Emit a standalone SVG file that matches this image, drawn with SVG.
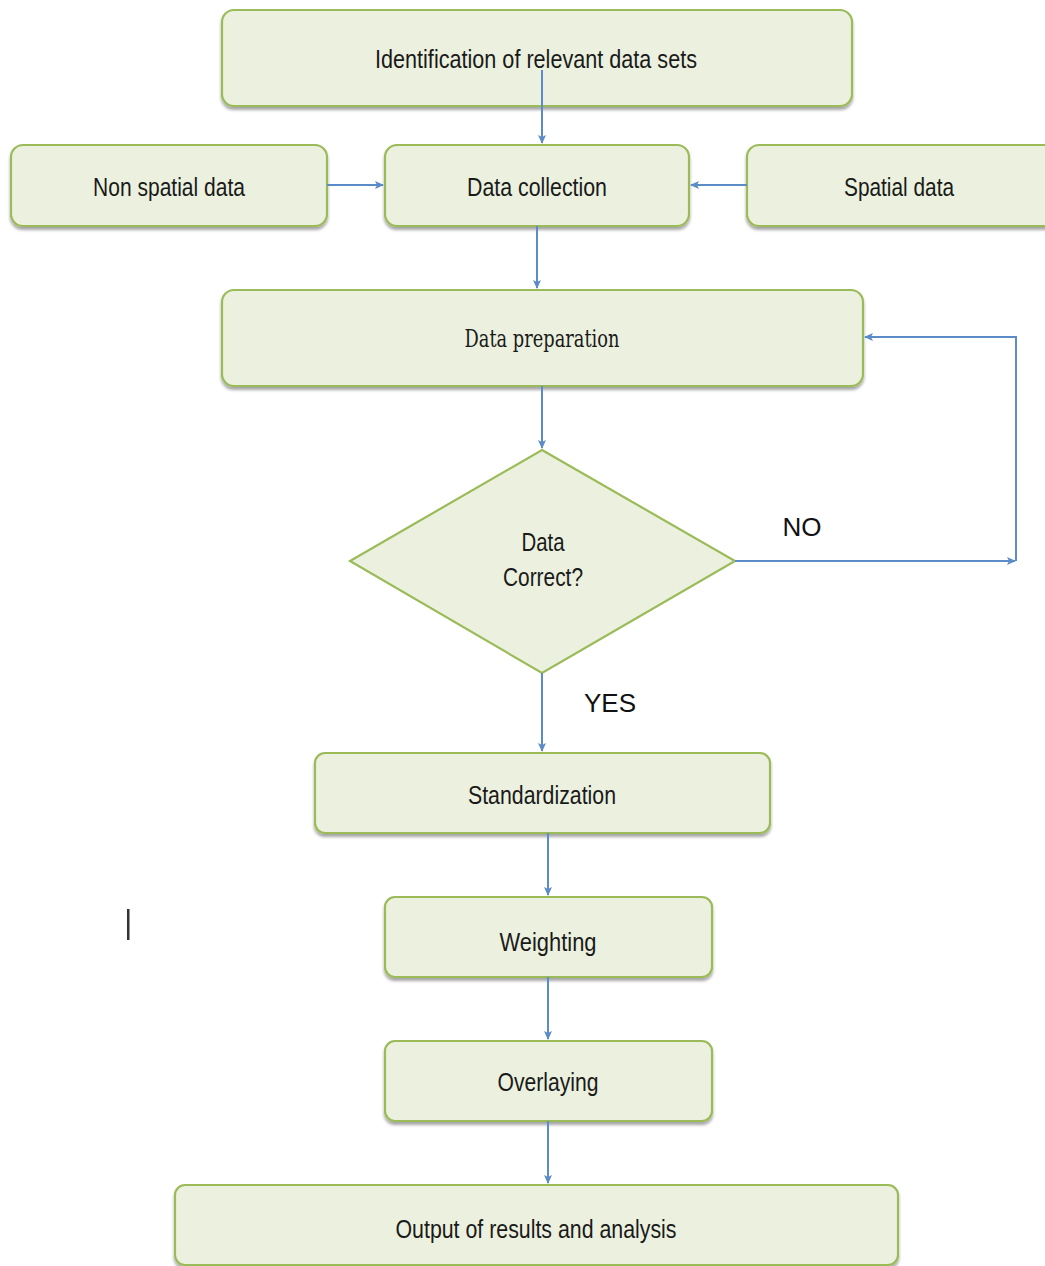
<svg xmlns="http://www.w3.org/2000/svg" width="1045" height="1266" viewBox="0 0 1045 1266">
<style>
.box{fill:#EBF1DE;stroke:#9BBB59;stroke-width:2.2;filter:url(#sh)}
.t{font-family:"Liberation Sans",Arial,sans-serif;font-size:25px;fill:#1a1a1a;text-anchor:middle}
.ts{font-family:"DejaVu Serif","Liberation Serif",serif;font-size:24px;fill:#1a1a1a;text-anchor:middle}
.lbl{font-family:"Liberation Sans",Arial,sans-serif;font-size:26px;fill:#111;text-anchor:middle}
.c{fill:none;stroke:#5B8CC8;stroke-width:2}
</style>
<defs>
<filter id="sh" x="-5%" y="-10%" width="110%" height="130%">
<feDropShadow dx="0" dy="3" stdDeviation="1.5" flood-color="#000" flood-opacity="0.35"/>
</filter>
<marker id="ah" markerWidth="10" markerHeight="10" refX="8" refY="5" orient="auto" markerUnits="userSpaceOnUse">
<path d="M0,1 L9,5 L0,9 L2,5 Z" fill="#5B8CC8"/>
</marker>
</defs>
<rect width="1045" height="1266" fill="#fff"/>

<g id="n_ident"><rect class="box" x="222" y="10" width="630" height="96" rx="12"/>
<text class="t" x="536" y="68" textLength="322" lengthAdjust="spacingAndGlyphs">Identification of relevant data sets</text></g>

<g id="n_nonspatial"><rect class="box" x="11" y="145" width="316" height="81" rx="12"/>
<text class="t" x="169" y="196" textLength="152" lengthAdjust="spacingAndGlyphs">Non spatial data</text></g>

<g id="n_collection"><rect class="box" x="385" y="145" width="304" height="81" rx="12"/>
<text class="t" x="537" y="196" textLength="140" lengthAdjust="spacingAndGlyphs">Data collection</text></g>

<g id="n_spatial"><rect class="box" x="747" y="145" width="310" height="81" rx="12"/>
<text class="t" x="899" y="196" textLength="110" lengthAdjust="spacingAndGlyphs">Spatial data</text></g>

<g id="n_prep"><rect class="box" x="222" y="290" width="641" height="96" rx="12"/>
<text class="ts" x="542" y="347" textLength="155" lengthAdjust="spacingAndGlyphs">Data preparation</text></g>

<g id="n_decision"><polygon points="542,450 735,561 542,673 350,561" fill="#EBF1DE" stroke="#9BBB59" stroke-width="2.2"/>
<text class="t" x="543" y="551" textLength="43" lengthAdjust="spacingAndGlyphs">Data</text>
<text class="t" x="543" y="586" textLength="80" lengthAdjust="spacingAndGlyphs">Correct?</text></g>

<g id="n_std"><rect class="box" x="315" y="753" width="455" height="80" rx="10"/>
<text class="t" x="542" y="804" textLength="148" lengthAdjust="spacingAndGlyphs">Standardization</text></g>

<g id="n_weight"><rect class="box" x="385" y="897" width="327" height="80" rx="10"/>
<text class="t" x="548" y="951" textLength="97" lengthAdjust="spacingAndGlyphs">Weighting</text></g>

<g id="n_overlay"><rect class="box" x="385" y="1041" width="327" height="80" rx="10"/>
<text class="t" x="548" y="1091" textLength="101" lengthAdjust="spacingAndGlyphs">Overlaying</text></g>

<g id="n_output"><rect class="box" x="175" y="1185" width="723" height="80" rx="10"/>
<text class="t" x="536" y="1238" textLength="281" lengthAdjust="spacingAndGlyphs">Output of results and analysis</text></g>

<g id="connectors">
<path class="c" d="M542,70 V143" marker-end="url(#ah)"/>
<path class="c" d="M327,185 H383" marker-end="url(#ah)"/>
<path class="c" d="M747,185 H691" marker-end="url(#ah)"/>
<path class="c" d="M537,226 V288" marker-end="url(#ah)"/>
<path class="c" d="M542,386 V448" marker-end="url(#ah)"/>
<path class="c" d="M735,561 H1015" marker-end="url(#ah)"/>
<path class="c" d="M1016,561 V337 H865" marker-end="url(#ah)"/>
<path class="c" d="M542,673 V751" marker-end="url(#ah)"/>
<path class="c" d="M548,833 V895" marker-end="url(#ah)"/>
<path class="c" d="M548,977 V1039" marker-end="url(#ah)"/>
<path class="c" d="M548,1121 V1183" marker-end="url(#ah)"/>
</g>

<text class="lbl" x="802" y="536">NO</text>
<text class="lbl" x="610" y="712">YES</text>
<rect x="127" y="909" width="2.5" height="31" fill="#333"/>
</svg>
